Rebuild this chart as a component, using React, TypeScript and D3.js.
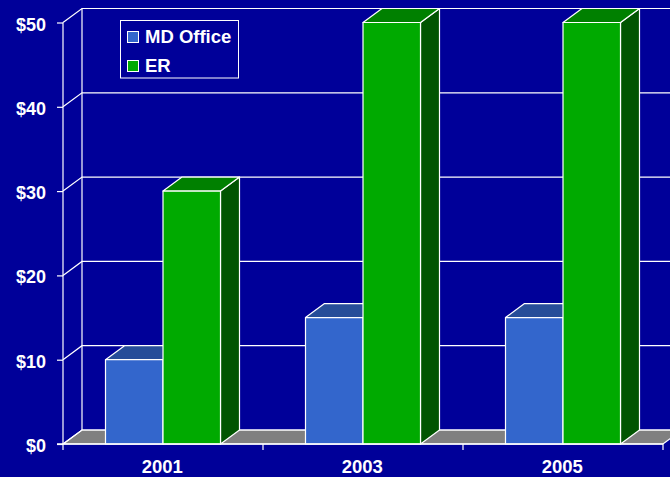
import React, { useEffect, useRef } from "react";
import * as d3 from "d3";

const years = ["2001", "2003", "2005"];
const seriesNames = ["MD Office", "ER"];
const mdOffice = [10, 15, 15];
const er = [30, 50, 50];
const yTicks = [0, 10, 20, 30, 40, 50];

const width = 670;
const height = 477;
const marginLeft = 63;
const marginTop = 22.5;
const marginBottom = 33;
const plotWidth = 600;
// how far the back wall is pushed away from the front
const depthX = 19;
const depthY = 14;

const colors = {
  bg: "#000099",
  floor: "#808080",
  line: "#ffffff",
  blue: { front: "#3366cc", top: "#264d99", side: "#264d99" },
  green: { front: "#00aa00", top: "#008000", side: "#005500" },
};

export default function App() {
  const ref = useRef<SVGSVGElement>(null);

  useEffect(() => {
    const svg = d3.select(ref.current);
    svg.selectAll("*").remove();

    // group holds the year, inner splits it into the two bars
    const group = d3.scaleBand<string>()
      .domain(years)
      .range([marginLeft, marginLeft + plotWidth]);
    const inner = d3.scaleBand<string>()
      .domain(seriesNames)
      .range([0, 115]);
    const y = d3.scaleLinear([0, 50], [height - marginBottom, marginTop]);

    const font = "'Liberation Sans', Arial, sans-serif";
    const y0 = y(0);

    svg.append("rect")
      .attr("width", width)
      .attr("height", height)
      .attr("fill", colors.bg);

    // floor
    svg.append("path")
      .attr("d", `M${marginLeft},${y0}L${marginLeft + depthX},${y0 - depthY}H${marginLeft + plotWidth + depthX}L${marginLeft + plotWidth},${y0}Z`)
      .attr("fill", colors.floor)
      .attr("stroke", colors.line)
      .attr("stroke-width", 1.2);

    // gridlines on the walls
    const grid = svg.append("g").attr("stroke", colors.line).attr("stroke-width", 1.2).attr("fill", "none");
    yTicks.forEach((t) => {
      grid.append("path")
        .attr("d", `M${marginLeft},${y(t)}L${marginLeft + depthX},${y(t) - depthY}H${width}`);
    });
    grid.append("path")
      .attr("d", `M${marginLeft + depthX},${y(0) - depthY}V${y(50) - depthY}`);

    // y axis
    const yAxis = svg.append("g")
      .attr("transform", `translate(${marginLeft},0)`)
      .call(d3.axisLeft(y).tickValues(yTicks).tickSize(6).tickPadding(11).tickFormat((d) => `$${d}`));
    yAxis.select("path.domain").attr("stroke", colors.line).attr("stroke-width", 1.2).attr("d", `M0,${y(50)}V${y0}`);
    yAxis.selectAll("line").attr("stroke", colors.line).attr("stroke-width", 1.2);
    yAxis.selectAll("text")
      .attr("fill", colors.line)
      .attr("font-family", font)
      .attr("font-size", 18)
      .attr("font-weight", "bold")
      .attr("dy", "0.42em");

    // bars
    const drawBar = (x0: number, w: number, value: number, c: { front: string; top: string; side: string }) => {
      const top = y(value);
      const g = svg.append("g").attr("stroke", colors.line).attr("stroke-width", 1.2).attr("stroke-linejoin", "round");
      g.append("path")
        .attr("d", `M${x0 + w},${y0}L${x0 + w + depthX},${y0 - depthY}V${top - depthY}L${x0 + w},${top}Z`)
        .attr("fill", c.side);
      g.append("path")
        .attr("d", `M${x0},${top}L${x0 + depthX},${top - depthY}H${x0 + w + depthX}L${x0 + w},${top}Z`)
        .attr("fill", c.top);
      g.append("rect")
        .attr("x", x0)
        .attr("y", top)
        .attr("width", w)
        .attr("height", y0 - top)
        .attr("fill", c.front);
    };

    years.forEach((yr, i) => {
      const start = group(yr)! + (group.bandwidth() - inner.bandwidth() * 2) / 2;
      drawBar(start + inner("MD Office")!, inner.bandwidth(), mdOffice[i], colors.blue);
      drawBar(start + inner("ER")!, inner.bandwidth(), er[i], colors.green);
    });

    // x axis on top of the bars
    const xAxis = svg.append("g")
      .attr("transform", `translate(0,${y0})`)
      .call(d3.axisBottom(group).tickSize(0).tickPadding(16));
    xAxis.select("path.domain").attr("stroke", colors.line).attr("stroke-width", 1.6).attr("d", `M${marginLeft - 6},0H${marginLeft + plotWidth}`);
    xAxis.selectAll("text")
      .attr("fill", colors.line)
      .attr("font-family", font)
      .attr("font-size", 18.5)
      .attr("font-weight", "bold")
      .attr("dx", -0.8);
    years.concat("").forEach((_, i) => {
      const tx = marginLeft + group.step() * i;
      svg.append("line")
        .attr("x1", tx).attr("x2", tx)
        .attr("y1", y0).attr("y2", y0 + 6)
        .attr("stroke", colors.line)
        .attr("stroke-width", 1.2);
    });

    // legend
    const legend = svg.append("g").attr("transform", "translate(120.5,20.5)");
    legend.append("rect")
      .attr("width", 118)
      .attr("height", 57.5)
      .attr("fill", colors.bg)
      .attr("stroke", colors.line);
    seriesNames.forEach((name, i) => {
      legend.append("rect")
        .attr("x", 7)
        .attr("y", 11 + i * 29)
        .attr("width", 11)
        .attr("height", 11)
        .attr("fill", i === 0 ? colors.blue.front : colors.green.front)
        .attr("stroke", colors.line);
      legend.append("text")
        .attr("x", 24.5)
        .attr("y", 22.5 + i * 29)
        .attr("fill", colors.line)
        .attr("font-family", font)
        .attr("font-size", 18.5)
        .attr("font-weight", "bold")
        .text(name);
    });
  }, []);

  return (
    <svg
      ref={ref}
      width={width}
      height={height}
      style={{ position: "absolute", left: 0, top: 0, display: "block" }}
    />
  );
}
